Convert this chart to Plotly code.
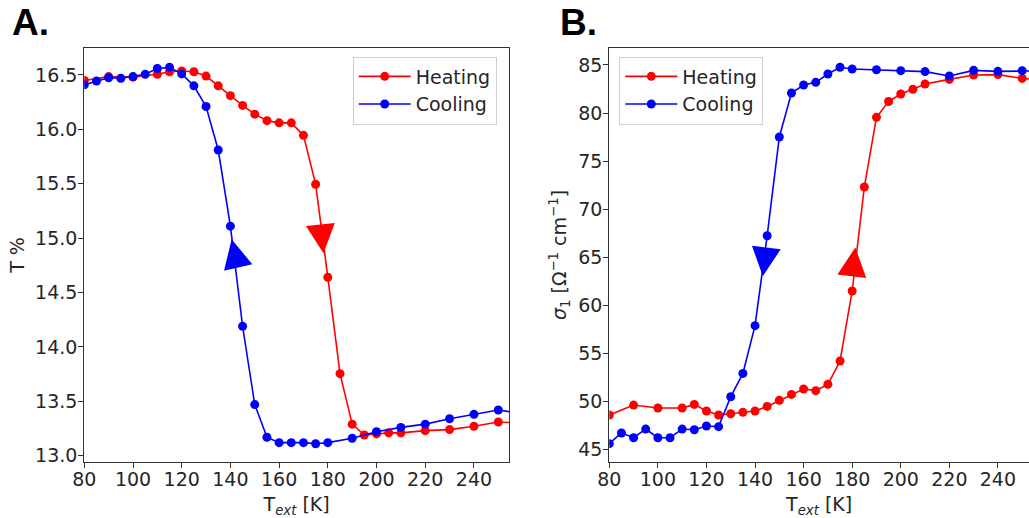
import plotly.graph_objects as go

# ---------------- data ----------------
# Panel A: transmission T % vs T_ext
A_T_heat = [80, 90, 100, 110, 115, 120, 125, 130, 135, 140, 145, 150, 155, 160, 165, 170,
            175, 180, 185, 190, 195, 200, 205, 210, 220, 230, 240, 250, 260]
A_heat = [16.45, 16.485, 16.48, 16.506, 16.53, 16.537, 16.53, 16.49, 16.40, 16.31, 16.22,
          16.14, 16.08, 16.06, 16.06, 15.945, 15.495, 14.64, 13.754, 13.29, 13.19, 13.20,
          13.21, 13.21, 13.23, 13.24, 13.27, 13.31, 13.30]
A_T_cool = [80, 85, 90, 95, 100, 105, 110, 115, 120, 125, 130, 135, 140, 145, 150, 155,
            160, 165, 170, 175, 180, 190, 200, 210, 220, 230, 240, 250, 260]
A_cool = [16.41, 16.445, 16.475, 16.47, 16.485, 16.506, 16.56, 16.57, 16.51, 16.40, 16.21,
          15.81, 15.11, 14.19, 13.47, 13.17, 13.12, 13.12, 13.12, 13.11, 13.12, 13.16,
          13.22, 13.26, 13.29, 13.34, 13.38, 13.42, 13.385]

# Panel B: sigma_1 vs T_ext
B_T_heat = [80, 90, 100, 110, 115, 120, 125, 130, 135, 140, 145, 150, 155, 160, 165, 170,
            175, 180, 185, 190, 195, 200, 205, 210, 220, 230, 240, 250, 260]
B_heat = [48.54, 49.58, 49.27, 49.27, 49.65, 48.96, 48.54, 48.68, 48.82, 48.96, 49.44,
          50.07, 50.69, 51.25, 51.08, 51.74, 54.17, 61.46, 72.29, 79.55, 81.2, 81.98,
          82.47, 83.02, 83.5, 83.96, 84.0, 83.6, 83.4]
B_T_cool = [80, 85, 90, 95, 100, 105, 110, 115, 120, 125, 130, 135, 140, 145, 150, 155,
            160, 165, 170, 175, 180, 190, 200, 210, 220, 230, 240, 250, 260]
B_cool = [45.56, 46.67, 46.18, 47.08, 46.18, 46.18, 47.08, 47.01, 47.4, 47.33, 50.45,
          52.88, 57.85, 67.22, 77.5, 82.08, 82.92, 83.19, 84.06, 84.76, 84.58, 84.51,
          84.41, 84.31, 83.85, 84.44, 84.34, 84.41, 84.4]

# direction arrows (tip position)
A_arrow_heat = (178.2, 14.86)
A_arrow_cool = (140.5, 14.99)
B_arrow_heat = (181.3, 66.0)
B_arrow_cool = (143.2, 63.0)

x_ticks = [80, 100, 120, 140, 160, 180, 200, 220, 240]
A_y_ticks = [13.0, 13.5, 14.0, 14.5, 15.0, 15.5, 16.0, 16.5]
B_y_ticks = [45, 50, 55, 60, 65, 70, 75, 80, 85]

# ---------------- figure ----------------
RED = "#ff0000"
BLUE = "#0000ff"
FONT = "DejaVu Sans"
TXT = "#262626"

fig = go.Figure()

def series(x, y, color, name, xa, ya, legend, show):
    fig.add_trace(go.Scatter(
        x=x, y=y, mode="lines+markers", name=name,
        line=dict(color=color, width=1.6),
        marker=dict(color=color, size=9),
        xaxis=xa, yaxis=ya, legend=legend, showlegend=show))

def arrow(pt, symbol, angle, color, xa, ya):
    fig.add_trace(go.Scatter(
        x=[pt[0]], y=[pt[1]], mode="markers",
        marker=dict(symbol=symbol, size=29, angle=angle, color=color,
                    line=dict(width=0)),
        xaxis=xa, yaxis=ya, showlegend=False, hoverinfo="skip"))

series(A_T_heat, A_heat, RED, "Heating", "x", "y", "legend", True)
series(A_T_cool, A_cool, BLUE, "Cooling", "x", "y", "legend", True)
arrow(A_arrow_heat, "arrow-down", -6, RED, "x", "y")
arrow(A_arrow_cool, "arrow-up", -13, BLUE, "x", "y")

series(B_T_heat, B_heat, RED, "Heating", "x2", "y2", "legend2", True)
series(B_T_cool, B_cool, BLUE, "Cooling", "x2", "y2", "legend2", True)
arrow(B_arrow_heat, "arrow-up", 7, RED, "x2", "y2")
arrow(B_arrow_cool, "arrow-down", 7, BLUE, "x2", "y2")

W, H = 1029, 518

def px_x(p):
    return p / W

def px_y(p):
    return 1 - p / H

axis_common = dict(
    showgrid=False, zeroline=False, showline=True, linecolor="#333333", linewidth=1.2,
    ticks="outside", ticklen=5, tickwidth=1.2, tickcolor="#333333", automargin=False,
    tickfont=dict(family=FONT, size=19, color=TXT),
)

title_font = dict(family=FONT, size=19, color=TXT)

fig.update_layout(
    width=W, height=H,
    margin=dict(l=0, r=0, t=0, b=0, autoexpand=False),
    paper_bgcolor="white", plot_bgcolor="white",
    font=dict(family=FONT, color=TXT),
    xaxis=dict(axis_common, domain=[px_x(84.3), px_x(509)], range=[80, 254.4],
               tickvals=x_ticks, mirror=True, anchor="y", ticklabelstandoff=-5,
               title=dict(text="T<sub><i>ext</i></sub> [K]", font=title_font, standoff=11)),
    yaxis=dict(axis_common, domain=[px_y(462), px_y(48)], range=[12.942, 16.748],
               tickvals=A_y_ticks, tickformat=".1f", mirror=True, anchor="x",
               ticklabelstandoff=-3,
               title=dict(text="T %", font=title_font, standoff=5)),
    xaxis2=dict(axis_common, domain=[px_x(609.3), 1.0], range=[80, 252.8],
                tickvals=x_ticks, mirror=True, anchor="y2", ticklabelstandoff=-5,
                title=dict(text="T<sub><i>ext</i></sub> [K]", font=title_font, standoff=11)),
    yaxis2=dict(axis_common, domain=[px_y(462), px_y(48)], range=[43.65, 86.77],
                tickvals=B_y_ticks, mirror=False, anchor="x2", ticklabelstandoff=-3,
                title=dict(text="<i>σ</i><sub>1</sub> [Ω<sup>−1</sup> cm<sup>−1</sup>]",
                           font=title_font, standoff=6)),
    legend=dict(x=px_x(352.7), y=px_y(56.5), xanchor="left", yanchor="top",
                bgcolor="rgba(255,255,255,0.8)", bordercolor="#d0d0d0", borderwidth=1,
                font=dict(family=FONT, size=19, color=TXT), itemwidth=52),
    legend2=dict(x=px_x(619.3), y=px_y(56.5), xanchor="left", yanchor="top",
                 bgcolor="rgba(255,255,255,0.8)", bordercolor="#d0d0d0", borderwidth=1,
                 font=dict(family=FONT, size=19, color=TXT), itemwidth=52),
    annotations=[
        dict(text="<b>A.</b>", x=px_x(10), y=px_y(22), xref="paper", yref="paper",
             xanchor="left", yanchor="middle", showarrow=False,
             font=dict(family="Liberation Sans", size=37, color="black")),
        dict(text="<b>B.</b>", x=px_x(558), y=px_y(22), xref="paper", yref="paper",
             xanchor="left", yanchor="middle", showarrow=False,
             font=dict(family="Liberation Sans", size=37, color="black")),
    ],
)

fig.write_html("out.html")
